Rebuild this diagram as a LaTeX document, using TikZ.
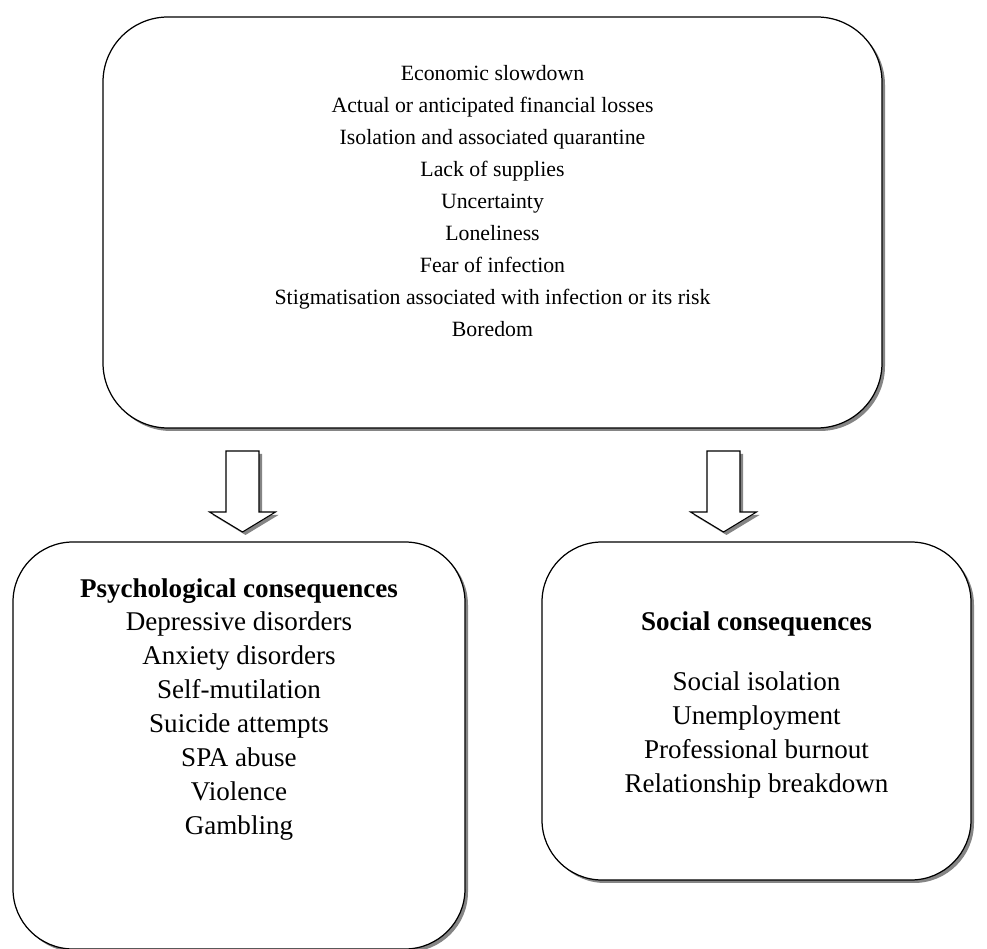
\documentclass[tikz,border=0pt]{standalone}
\usepackage{fontspec}
\setmainfont{Liberation Serif}
\usetikzlibrary{positioning,shadows}

\tikzset{
    softshadow/.style={drop shadow={shadow xshift=0.06cm,shadow yshift=-0.06cm,fill=black!60,opacity=0.8}},
    roundbox/.style={draw,line width=0.7pt,rounded corners=1.3cm,fill=white,softshadow},
    blockarrow/.style={draw,line width=0.6pt,fill=white,softshadow},
    smalllist/.style={inner sep=0pt,align=center,font=\fontsize{12.4}{18.2}\selectfont},
    biglist/.style={inner sep=0pt,align=center,font=\fontsize{15.4}{19.3}\selectfont}
}

\begin{document}
\begin{tikzpicture}
    \useasboundingbox (0,0) rectangle (19.74,18.96);

    % Causes box
    \node[roundbox,minimum width=15.58cm,minimum height=8.22cm] (causes) at (9.85,14.51) {};
    \node[smalllist,below=0.97cm of causes.north] (causelist) {Economic slowdown\\
        Actual or anticipated financial losses\\
        Isolation and associated quarantine\\
        Lack of supplies\\
        Uncertainty\\
        Loneliness\\
        Fear of infection\\
        Stigmatisation associated with infection or its risk\\
        Boredom};

    % Consequence boxes
    \node[roundbox,rounded corners=1.2cm,minimum width=9.04cm,minimum height=8.14cm] (psy) at (4.78,4.05) {};
    \node[biglist,below=0.73cm of psy.north] (psylist) {\textbf{Psychological consequences}\\
        Depressive disorders\\
        Anxiety disorders\\
        Self-mutilation\\
        Suicide attempts\\
        SPA abuse\\
        Violence\\
        Gambling};

    \node[roundbox,rounded corners=1.2cm,minimum width=8.58cm,minimum height=6.76cm] (soc) at (15.13,4.74) {};
    \node[biglist,below=1.39cm of soc.north] (soclist) {\textbf{Social consequences}\\[0.53cm]
        Social isolation\\
        Unemployment\\
        Professional burnout\\
        Relationship breakdown};

    % Block arrows
    \coordinate (psyarrow) at (4.85,9.94);
    \coordinate (socarrow) at (14.47,9.94);
    \foreach \a in {psyarrow,socarrow}
        \draw[blockarrow] (\a) ++(-0.33,0) -- ++(0,-1.22) -- ++(-0.33,0) -- ++(0.66,-0.4)
            -- ++(0.66,0.4) -- ++(-0.33,0) -- ++(0,1.22) -- cycle;
\end{tikzpicture}
\end{document}
